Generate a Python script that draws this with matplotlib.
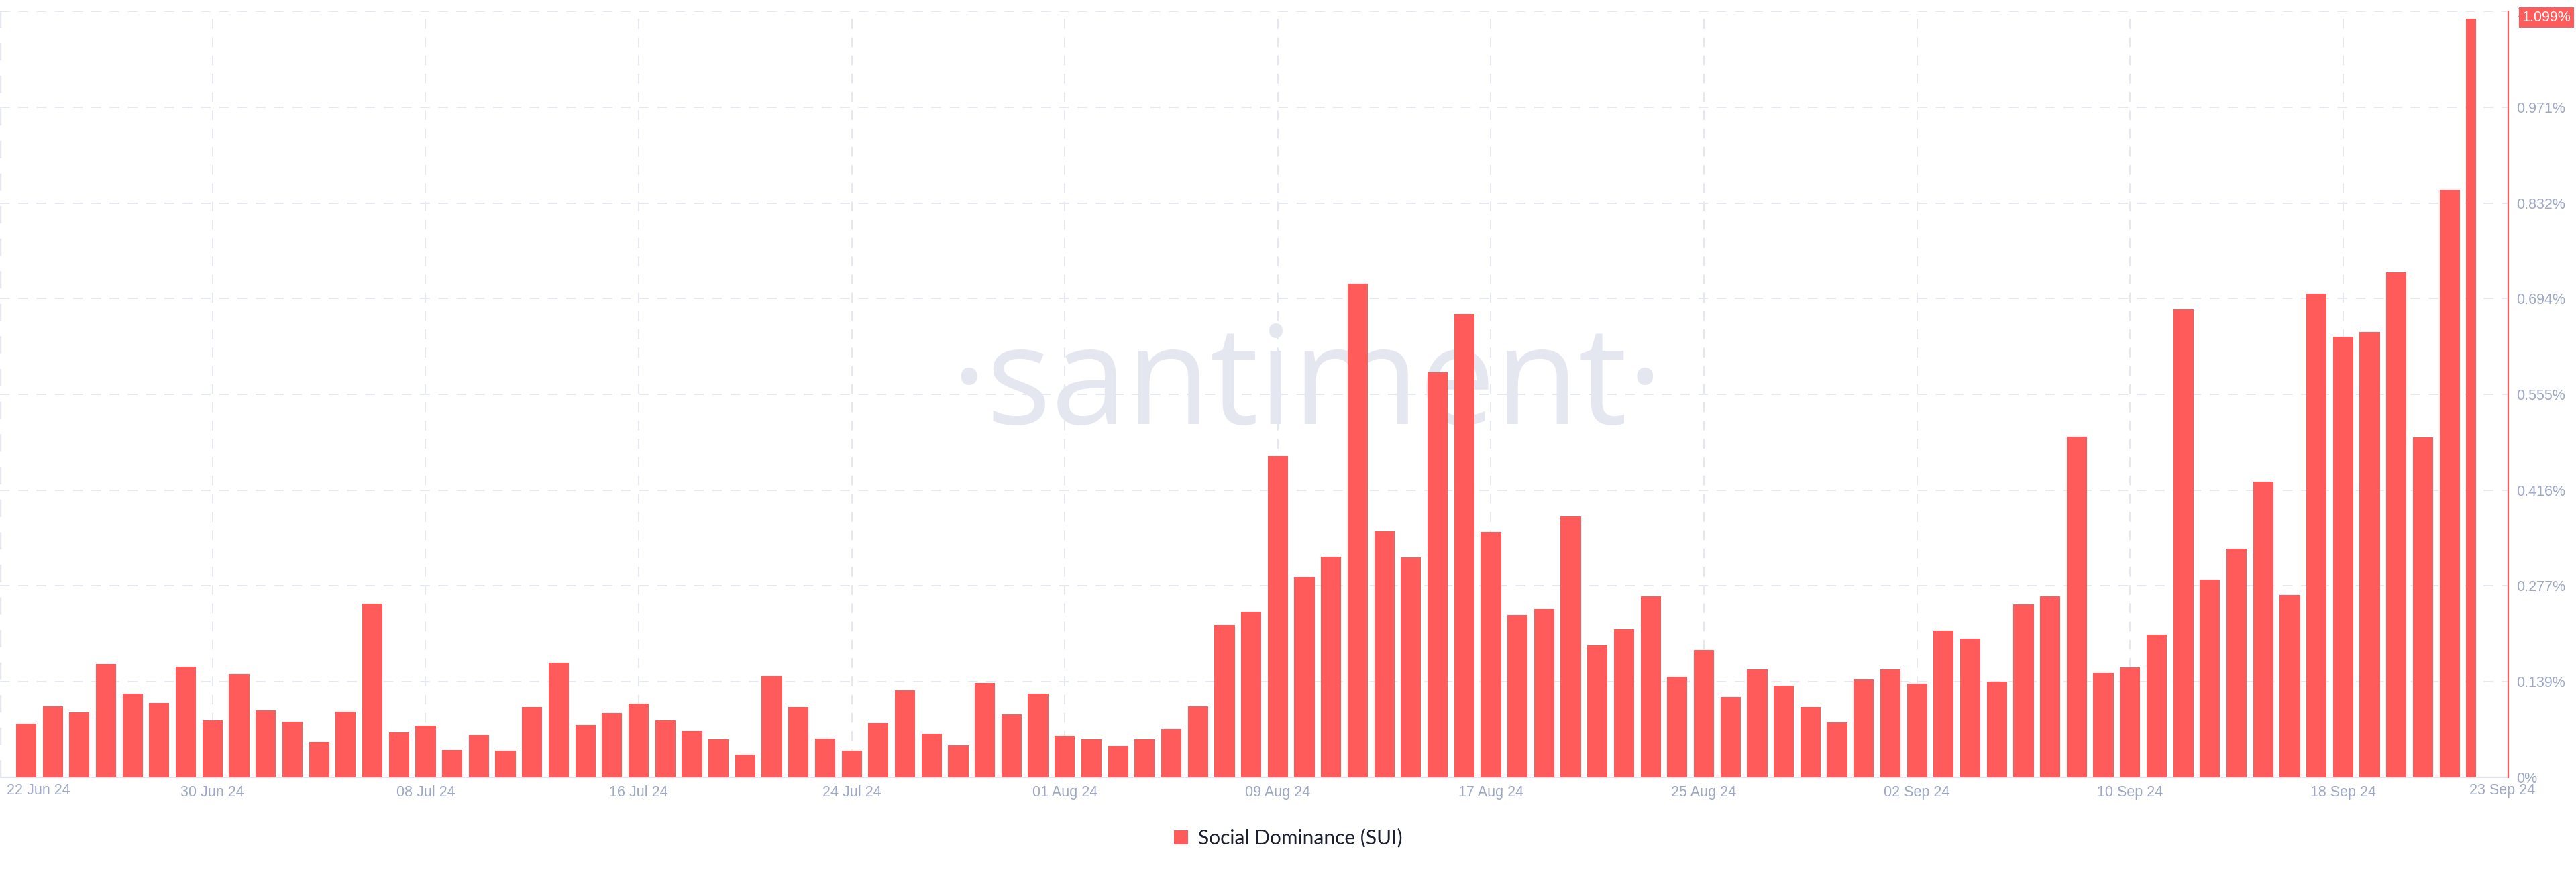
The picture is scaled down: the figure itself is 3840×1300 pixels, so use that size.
import matplotlib
matplotlib.use('Agg')
import matplotlib.pyplot as plt
import matplotlib.dates as mdates
from matplotlib.patches import Patch
import numpy as np
import pandas as pd

# ------------------------------------------------------------
# data: daily social dominance of SUI, %
# ------------------------------------------------------------
start_date = '2024-06-23'
end_date = '2024-09-23'
dominance = [
    0.078, 0.103, 0.094, 0.164, 0.121, 0.108, 0.160, 0.083, 0.150, 0.097,
    0.081, 0.051, 0.095, 0.252, 0.065, 0.075, 0.040, 0.061, 0.039, 0.102,
    0.166, 0.076, 0.093, 0.107, 0.083, 0.067, 0.055, 0.033, 0.147, 0.102,
    0.056, 0.039, 0.079, 0.126, 0.063, 0.047, 0.137, 0.091, 0.121, 0.060,
    0.055, 0.046, 0.055, 0.070, 0.103, 0.221, 0.240, 0.466, 0.291, 0.320,
    0.715, 0.357, 0.319, 0.587, 0.672, 0.356, 0.235, 0.244, 0.378, 0.191,
    0.215, 0.262, 0.146, 0.185, 0.117, 0.156, 0.133, 0.102, 0.080, 0.142,
    0.156, 0.136, 0.213, 0.201, 0.139, 0.251, 0.262, 0.494, 0.152, 0.159,
    0.207, 0.678, 0.287, 0.331, 0.429, 0.264, 0.701, 0.639, 0.645, 0.732,
    0.493, 0.851, 1.099,
]
yticks = [0, 0.13875, 0.2775, 0.41625, 0.555, 0.69375, 0.8325, 0.97125, 1.11]
ytick_labels = ['0%', '0.139%', '0.277%', '0.416%', '0.555%', '0.694%',
                '0.832%', '0.971%', '1.11%']
xtick_dates = ['2024-06-30', '2024-07-08', '2024-07-16', '2024-07-24',
               '2024-08-01', '2024-08-09', '2024-08-17', '2024-08-25',
               '2024-09-02', '2024-09-10', '2024-09-18']
first_label = '22 Jun 24'
last_label = '23 Sep 24'
series_name = 'Social Dominance (SUI)'
last_value_label = '1.099%'

# ------------------------------------------------------------
# style
# ------------------------------------------------------------
RED = '#ff5b5b'
GRID = '#e6e8f1'
TICK = '#9ea8c4'
DARK = '#1c1f2e'
WATERMARK = '#e5e7f0'
TICK_SIZE = 15.5

plt.rcParams['font.family'] = ['Liberation Sans', 'DejaVu Sans']

fig = plt.figure(figsize=(38.4, 13), dpi=100)
fig.patch.set_facecolor('white')
ax = fig.add_axes([0.0, 0.1085, 0.9737, 0.8784])

dates = pd.date_range(start_date, end_date, freq='D')
x = mdates.date2num(dates)

widths = np.full(len(x), 0.76)
widths[-1] = 0.38  # today's bar is only half drawn
ax.bar(x - 0.38, dominance, width=widths, align='edge', color=RED,
       edgecolor='none', zorder=3)

# watermark behind the bars
ax.text(0.521, 0.4615, '·santiment·', transform=ax.transAxes,
        ha='center', va='baseline', fontsize=146, color=WATERMARK,
        family='Open Sans', zorder=1)

ax.set_xlim(x[0] - 0.98, x[0] + 93.2)
ax.set_ylim(0, 1.11)

ax.set_xticks(mdates.date2num(pd.to_datetime(xtick_dates)))
ax.xaxis.set_major_formatter(mdates.DateFormatter('%d %b %y'))
ax.set_yticks(yticks)
ax.set_yticklabels(ytick_labels)
ax.yaxis.tick_right()

ax.tick_params(axis='x', length=0, pad=9, labelsize=TICK_SIZE, labelcolor=TICK)
ax.tick_params(axis='y', length=0, pad=9, labelsize=TICK_SIZE, labelcolor=TICK)

dash = (0, (7.5, 6.5))
ax.grid(True, color=GRID, linestyle=dash, linewidth=1.4, zorder=0)
ax.set_axisbelow(True)
ax.axvline(ax.get_xlim()[0], color=GRID, linestyle=dash, linewidth=2.5, zorder=0)

for side in ['top', 'left']:
    ax.spines[side].set_visible(False)
ax.spines['bottom'].set_color('#e1e4ee')
ax.spines['bottom'].set_linewidth(1.5)
ax.spines['right'].set_color(RED)
ax.spines['right'].set_linewidth(1.6)
ax.spines['right'].set_zorder(5)

# first / last date labels pinned to the edges
ax.text(0.0027, -0.0175, first_label, transform=ax.transAxes,
        ha='left', va='center', fontsize=TICK_SIZE, color=TICK)
ax.text(0.9976, -0.0175, last_label, transform=ax.transAxes,
        ha='center', va='center', fontsize=TICK_SIZE, color=TICK)

# current value tag on the right axis, covering most of the top tick label
ax.text(1.0055, dominance[-1] + 0.002, last_value_label,
        transform=ax.get_yaxis_transform(), ha='left', va='center',
        fontsize=TICK_SIZE, color='white', zorder=10, clip_on=False,
        bbox=dict(boxstyle='square,pad=0.2', facecolor=RED, edgecolor='none'))

fig.legend(handles=[Patch(facecolor=RED, edgecolor='none')], labels=[series_name],
           loc='center', bbox_to_anchor=(0.5, 0.039), frameon=False,
           handlelength=0.7, handleheight=0.7, handletextpad=0.5,
           labelcolor=DARK, prop={'family': 'Lato', 'size': 21.5})

fig.savefig('out.png', dpi=100, facecolor='white')
plt.close(fig)
